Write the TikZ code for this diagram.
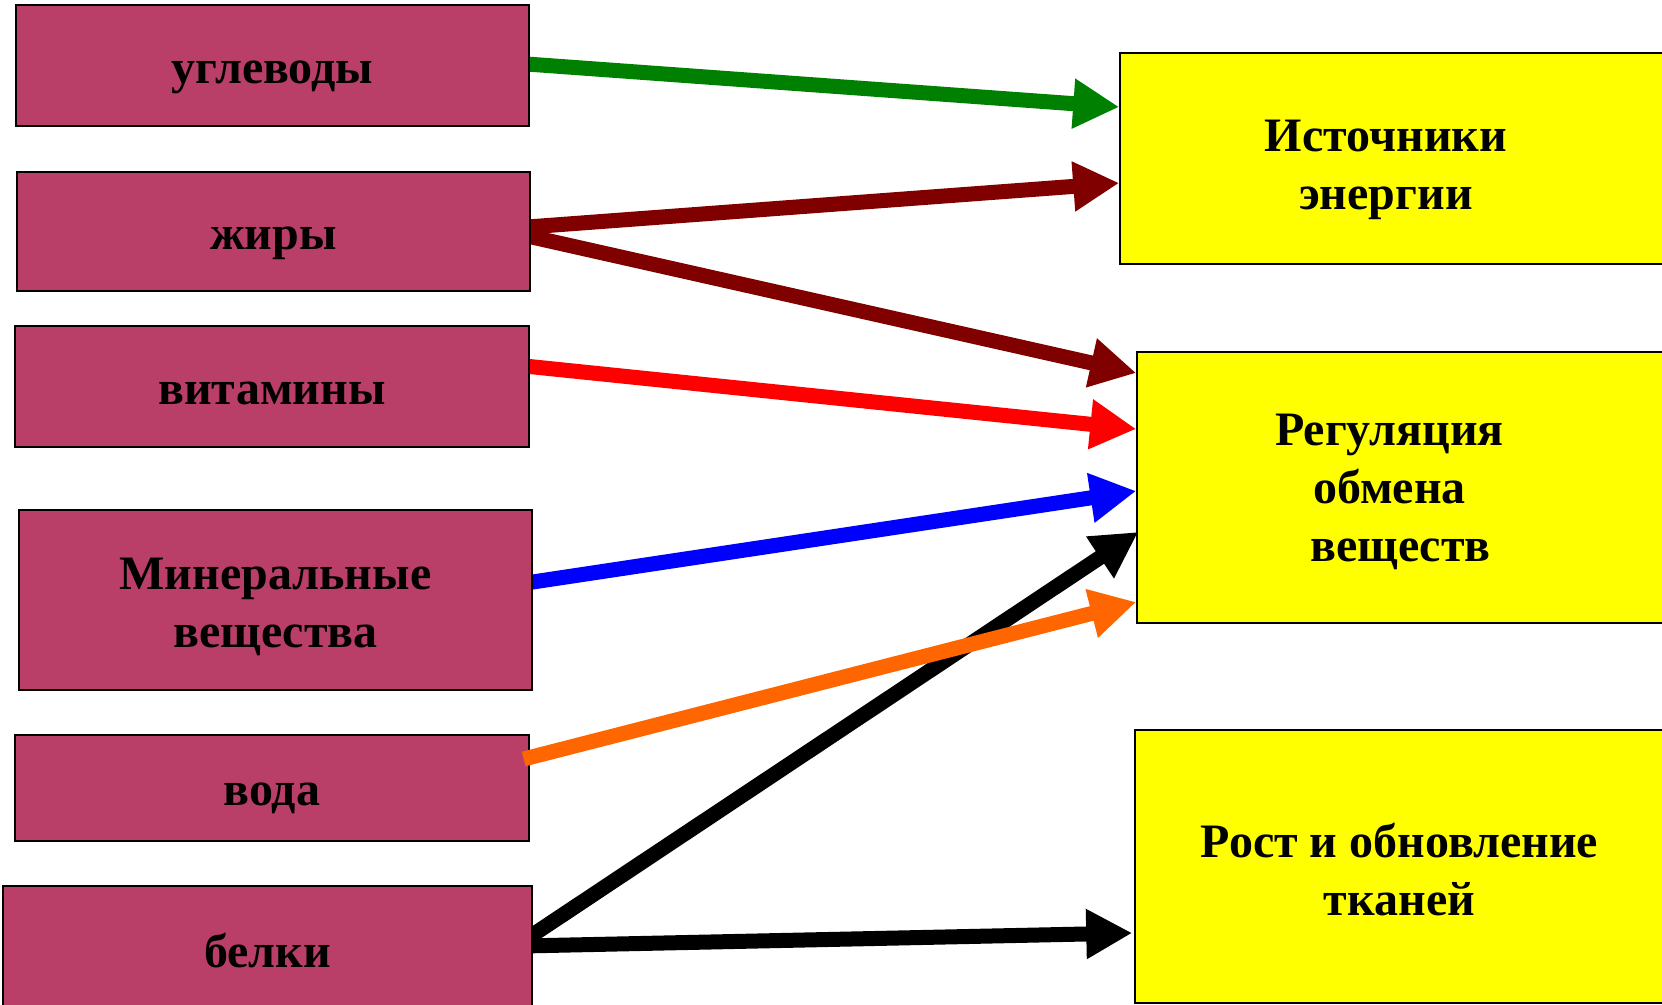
\documentclass[tikz,border=0pt]{standalone}
\usepackage{fontspec}
\setmainfont{Liberation Serif}
\usetikzlibrary{arrows.meta}
\pgfdeclarelayer{background}
\pgfsetlayers{background,main}
\definecolor{boxmag}{RGB}{186,63,104}
\definecolor{darkred}{RGB}{128,0,0}
\definecolor{darkgreen}{RGB}{0,128,0}
\definecolor{orangec}{RGB}{255,102,0}
\definecolor{pureyellow}{RGB}{255,255,0}
\tikzset{
  leftbox/.style={draw=black, line width=1.5pt, fill=boxmag, inner sep=0pt,
    font=\fontsize{48}{58}\selectfont\bfseries, align=center, text depth=0pt, text height=35pt},
  rightbox/.style={draw=black, line width=1.5pt, fill=pureyellow, inner sep=0pt,
    font=\fontsize{48}{58}\selectfont\bfseries, align=center, text depth=0pt},
  fatarrow/.style={line width=15pt, -{Triangle[length=46pt,width=47pt]}},
}
\begin{document}
\begin{tikzpicture}[x=1pt,y=-1pt]
\useasboundingbox (0,0) rectangle (1662,1004);
% left boxes
\node[leftbox, minimum width=513pt, minimum height=121pt] (ugl) at (272.5,65.5) {углеводы};
\node[leftbox, minimum width=513pt, minimum height=119pt] (zhir) at (273.5,231.5) {жиры};
\node[leftbox, minimum width=514pt, minimum height=121pt] (vit) at (272,386.5) {витамины};
\node[leftbox, minimum width=513pt, minimum height=180pt, text height=94pt] (miner) at (275.5,600) {Минеральные\\вещества};
\node[leftbox, minimum width=514pt, minimum height=106pt] (voda) at (272,788) {вода};
\node[leftbox, minimum width=529pt, minimum height=128pt] (belk) at (267.5,950) {белки};
% right boxes
\node[rightbox, minimum width=544pt, minimum height=211pt, text height=102pt] (ist) at (1392,158.5) {\hspace*{-12pt}Источники\\\hspace*{-12pt}энергии};
\node[rightbox, minimum width=527pt, minimum height=271pt, text height=148pt] (reg) at (1400.5,487.5) {\hspace*{-22pt}Регуляция\\\hspace*{-22pt}обмена\\веществ};
\node[rightbox, minimum width=529pt, minimum height=273pt, text height=97pt] (rost) at (1399.5,866.5) {Рост и обновление\\тканей};
% arrows
\begin{pgfonlayer}{background}
\draw[fatarrow, darkgreen] ([xshift=-10pt,yshift=2pt]ugl.east) -- ([yshift=51.5pt]ist.west);
\draw[fatarrow, darkred] ([xshift=-10pt,yshift=4pt]zhir.east) -- ([yshift=-24.5pt]ist.west);
\draw[fatarrow, darkred] ([xshift=-10pt,yshift=-3pt]zhir.east) -- ([yshift=114.5pt]reg.west);
\draw[fatarrow, red] ([xshift=-10pt,yshift=21pt]vit.east) -- ([yshift=58.5pt]reg.west);
\draw[fatarrow, blue] ([xshift=-10pt,yshift=16.5pt]miner.east) -- ([yshift=-3.5pt]reg.west);
\draw[fatarrow, black] ([xshift=-10pt,yshift=8.5pt]belk.east) -- ([xshift=2pt,yshift=-44.5pt]reg.west);
\draw[fatarrow, black] ([xshift=-10pt,yshift=4pt]belk.east) -- ([xshift=-2pt,yshift=-66.5pt]rost.west);
\end{pgfonlayer}
\draw[fatarrow, orangec] ([xshift=-6pt,yshift=29pt]voda.east) -- ([yshift=-114.5pt]reg.west);
\end{tikzpicture}
\end{document}
